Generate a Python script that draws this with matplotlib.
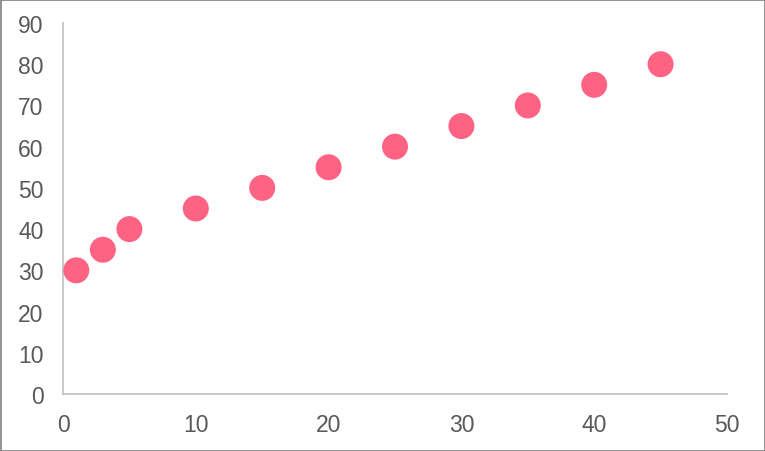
import matplotlib
matplotlib.use("Agg")
import matplotlib.pyplot as plt
from matplotlib.patches import Rectangle

x_vals = [1, 3, 5, 10, 15, 20, 25, 30, 35, 40, 45]
y_vals = [30, 35, 40, 45, 50, 55, 60, 65, 70, 75, 80]
x_ticks = [0, 10, 20, 30, 40, 50]
y_ticks = [0, 10, 20, 30, 40, 50, 60, 70, 80, 90]

plt.rcParams['font.family'] = ['Liberation Sans', 'DejaVu Sans']

fig = plt.figure(figsize=(7.65, 4.52), dpi=100)
ax = fig.add_axes([63/765, 1-395/452, (727-63)/765, (395-24)/452])

ax.scatter(x_vals, y_vals, s=(26*0.72)**2, color='#FF6384', edgecolors='none', zorder=3)

ax.set_xlim(0, 50)
ax.set_ylim(0, 90)
ax.set_xticks(x_ticks)
ax.set_yticks(y_ticks)
ax.tick_params(length=0, labelsize=16.5, labelcolor='#595959')
ax.tick_params(axis='x', pad=14)
ax.tick_params(axis='y', pad=14)
for s in ['top', 'right']:
    ax.spines[s].set_visible(False)
for s in ['left', 'bottom']:
    ax.spines[s].set_color('#BFBFBF')
    ax.spines[s].set_linewidth(1.2)

fig.patches.append(Rectangle((0.5/765, 0.5/452), 1-1/765, 1-1/452, transform=fig.transFigure,
                             fill=False, edgecolor='#808080', linewidth=1.2))

fig.savefig('out.png', dpi=100)
